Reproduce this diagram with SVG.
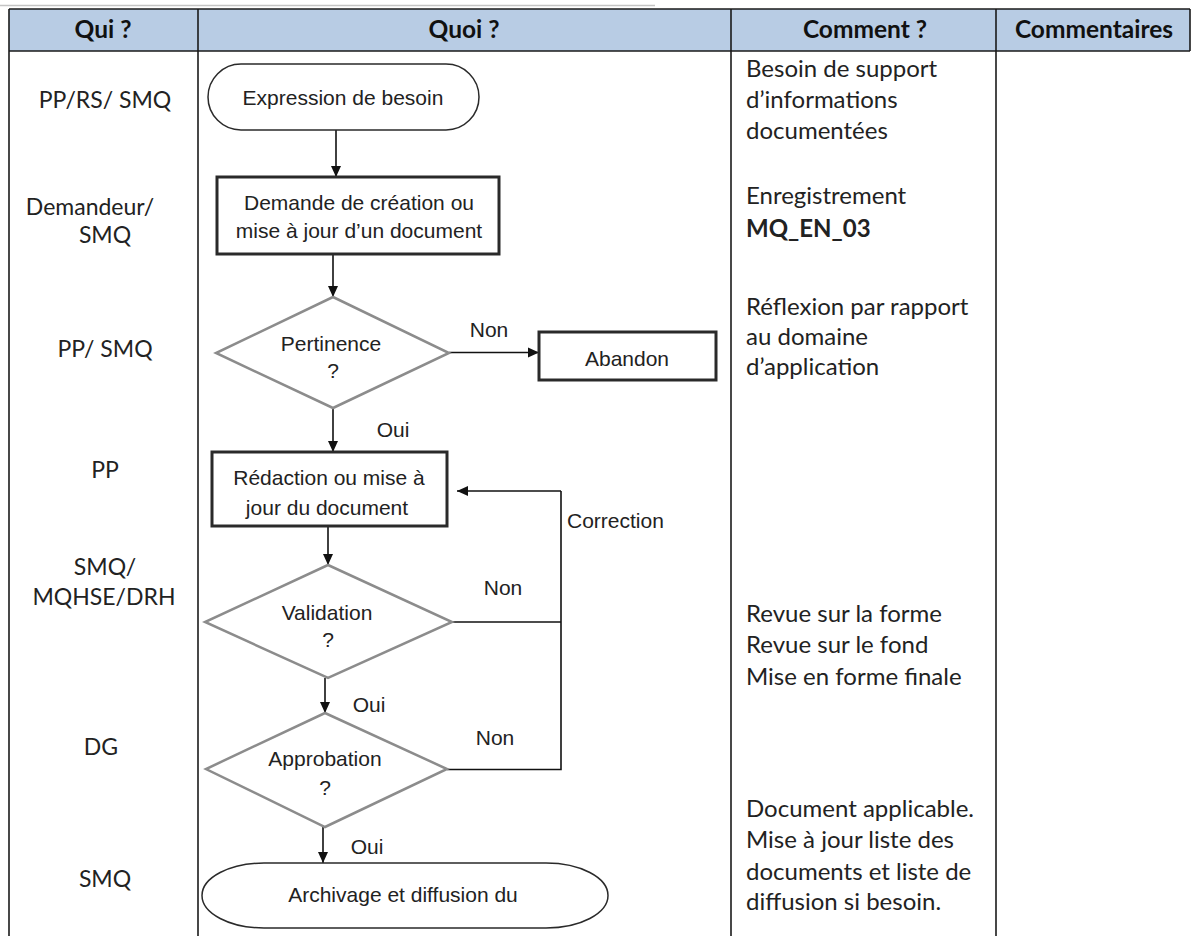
<svg xmlns="http://www.w3.org/2000/svg" width="1191" height="936" viewBox="0 0 1191 936">
<style>
.grid{stroke:#1a1a1a;stroke-width:1.6;fill:none}
.hdr{font-family:Lato,"Liberation Sans",sans-serif;font-weight:bold;font-size:24.5px;fill:#111;text-anchor:middle}
.who{font-family:Lato,"Liberation Sans",sans-serif;font-size:23px;fill:#222;text-anchor:middle}
.how{font-family:Lato,"Liberation Sans",sans-serif;font-size:24px;fill:#222}
.fc{font-family:"Liberation Sans",Arial,sans-serif;font-size:21px;fill:#222;text-anchor:middle}
.lbl{font-family:"Liberation Sans",Arial,sans-serif;font-size:21px;fill:#222;text-anchor:middle}
.lbl.start{text-anchor:start}
.box{fill:#fff;stroke:#2a2a2a;stroke-width:3}
.term{fill:#fff;stroke:#2a2a2a;stroke-width:1.5}
.dia{fill:#fff;stroke:#8c8c8c;stroke-width:2.5}
.con{stroke:#111;stroke-width:1.6;fill:none}
</style>
<defs>
<marker id="arr" markerUnits="userSpaceOnUse" markerWidth="12" markerHeight="12" refX="11" refY="6" orient="auto">
<path d="M0,1 L11,6 L0,11 z" fill="#111"/>
</marker>
</defs>
<rect width="1191" height="936" fill="#fff"/>
<g id="table">
<line x1="0" y1="5.5" x2="655" y2="5.5" stroke="#c4c4c4" stroke-width="1.5"/>
<rect x="9" y="9" width="1181" height="42" fill="#b8cce4"/>
<line class="grid" x1="9" y1="9" x2="1190" y2="9"/>
<line class="grid" x1="9" y1="51" x2="1190" y2="51"/>
<line class="grid" x1="1190" y1="9" x2="1190" y2="51"/>
<line class="grid" x1="9" y1="9" x2="9" y2="936"/>
<line class="grid" x1="198" y1="9" x2="198" y2="936"/>
<line class="grid" x1="731" y1="9" x2="731" y2="936"/>
<line class="grid" x1="996" y1="9" x2="996" y2="936"/>
<text class="hdr" x="103" y="38">Qui ?</text>
<text class="hdr" x="464" y="38">Quoi ?</text>
<text class="hdr" x="865" y="38">Comment ?</text>
<text class="hdr" x="1094" y="38">Commentaires</text>
</g>
<g id="qui">
<text class="who" x="105" y="108">PP/RS/ SMQ</text>
<text class="who" x="90" y="215">Demandeur/</text>
<text class="who" x="105" y="243">SMQ</text>
<text class="who" x="105" y="357">PP/ SMQ</text>
<text class="who" x="105" y="478">PP</text>
<text class="who" x="105" y="575">SMQ/</text>
<text class="who" x="104" y="605">MQHSE/DRH</text>
<text class="who" x="101" y="755">DG</text>
<text class="who" x="105" y="887">SMQ</text>
</g>
<g id="comment">
<text class="how" x="746" y="77">Besoin de support</text>
<text class="how" x="746" y="108">d’informations</text>
<text class="how" x="746" y="139">documentées</text>
<text class="how" x="746" y="204">Enregistrement</text>
<text class="how" x="746" y="237" font-weight="bold">MQ_EN_03</text>
<text class="how" x="746" y="315">Réflexion par rapport</text>
<text class="how" x="746" y="345">au domaine</text>
<text class="how" x="746" y="375">d’application</text>
<text class="how" x="746" y="622">Revue sur la forme</text>
<text class="how" x="746" y="653">Revue sur le fond</text>
<text class="how" x="746" y="685">Mise en forme finale</text>
<text class="how" x="746" y="817">Document applicable.</text>
<text class="how" x="746" y="848">Mise à jour liste des</text>
<text class="how" x="746" y="880">documents et liste de</text>
<text class="how" x="746" y="910">diffusion si besoin.</text>
</g>
<g id="connectors">
<line class="con" x1="336" y1="130" x2="336" y2="177" marker-end="url(#arr)"/>
<line class="con" x1="333" y1="254" x2="333" y2="297" marker-end="url(#arr)"/>
<line class="con" x1="449" y1="352.5" x2="539" y2="352.5" marker-end="url(#arr)"/>
<line class="con" x1="333" y1="408" x2="333" y2="452" marker-end="url(#arr)"/>
<line class="con" x1="328" y1="526" x2="328" y2="565" marker-end="url(#arr)"/>
<polyline class="con" points="452,622 561,622"/>
<polyline class="con" points="447,769.5 561,769.5 561,491"/>
<line class="con" x1="561" y1="491" x2="457" y2="491" marker-end="url(#arr)"/>
<line class="con" x1="325" y1="678" x2="325" y2="713" marker-end="url(#arr)"/>
<line class="con" x1="323" y1="827" x2="323" y2="863" marker-end="url(#arr)"/>
<text class="lbl" x="489" y="337">Non</text>
<text class="lbl" x="393" y="437">Oui</text>
<text class="lbl" x="503" y="595">Non</text>
<text class="lbl start" x="567" y="528">Correction</text>
<text class="lbl" x="369" y="712">Oui</text>
<text class="lbl" x="495" y="745">Non</text>
<text class="lbl" x="367" y="854">Oui</text>
</g>
<g id="n-expression">
<rect class="term" x="208" y="64" width="271" height="66" rx="33"/>
<text class="fc" x="343" y="105">Expression de besoin</text>
</g>
<g id="n-demande">
<rect class="box" x="217" y="177" width="282" height="77"/>
<text class="fc" x="359" y="210">Demande de création ou</text>
<text class="fc" x="359" y="238">mise à jour d’un document</text>
</g>
<g id="n-pertinence">
<polygon class="dia" points="333,297 449,353 333,408 216,353"/>
<text class="fc" x="331" y="351">Pertinence</text>
<text class="fc" x="333" y="378">?</text>
</g>
<g id="n-abandon">
<rect class="box" x="539" y="332" width="177" height="48"/>
<text class="fc" x="627" y="366">Abandon</text>
</g>
<g id="n-redaction">
<rect class="box" x="212" y="452" width="235" height="74"/>
<text class="fc" x="329" y="485">Rédaction ou mise à</text>
<text class="fc" x="327" y="515">jour du document</text>
</g>
<g id="n-validation">
<polygon class="dia" points="328,565 452,622 328,678 205,622"/>
<text class="fc" x="327" y="620">Validation</text>
<text class="fc" x="328" y="647">?</text>
</g>
<g id="n-approbation">
<polygon class="dia" points="325,713 447,769 325,827 206,769"/>
<text class="fc" x="325" y="766">Approbation</text>
<text class="fc" x="325" y="795">?</text>
</g>
<g id="n-archivage">
<rect class="term" x="202" y="863" width="406" height="65" rx="62" ry="32.5"/>
<text class="fc" x="403" y="902">Archivage et diffusion du</text>
</g>
</svg>
